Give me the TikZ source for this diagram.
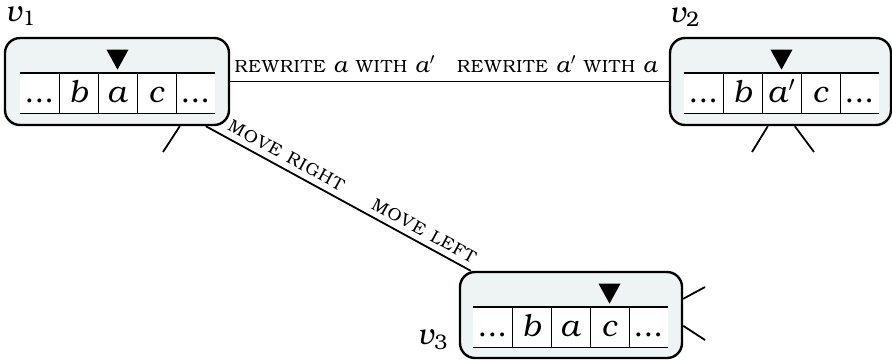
\documentclass[tikz,border=0pt]{standalone}
\usepackage[T1]{fontenc}
\usepackage{bookman}
\usetikzlibrary{calc}
\definecolor{boxfill}{RGB}{238,243,243}
\newcommand\tdots{...}
\tikzset{
  machine/.style={draw, line width=1.2pt, rounded corners=7.5pt, fill=boxfill, inner sep=0pt},
  cell/.style={fill=white, minimum width=19.5pt, minimum height=20pt, inner sep=0pt,
    text height=14.5pt, text depth=5.5pt, font=\fontsize{15.5}{17}\selectfont},
  tapeline/.style={line width=0.9pt},
  edge/.style={line width=0.9pt},
  lbl/.style={font=\fontsize{11}{13}\selectfont, inner sep=0pt},
  vlabel/.style={font=\fontsize{15}{17}\selectfont, inner sep=0pt}
}
\newcommand\tapecells[5]{%
  \foreach \t [count=\i] in {#4}{
    \node[cell] (#1c\i) at ({#2+39*\i-19.5},{#3+20}) {\t};
  }
  \draw[tapeline] (#1c1.north west) -- (#1c5.north east);
  \draw[tapeline] (#1c1.south west) -- (#1c5.south east);
  \foreach \i in {1,...,4}{\draw[tapeline] (#1c\i.north east) -- (#1c\i.south east);}
  \fill ($(#1c#5.north)+(0,-3)$) -- ++(-11,-20) -- ++(22,0) -- cycle;
}
\begin{document}
\begin{tikzpicture}[x=0.5pt,y=-0.5pt]
\useasboundingbox (0,0) rectangle (892,361);
% machines
\node[machine, minimum width=112pt, minimum height=43.5pt] (v1) at (117,81.5) {};
\node[machine, minimum width=110.5pt, minimum height=43.5pt] (v2) at (780.5,81.5) {};
\node[machine, minimum width=111pt, minimum height=43pt] (v3) at (571,315) {};
\tapecells{t1}{20}{73}{\tdots,\textit{b},\textit{a},\textit{c},\tdots}{3}
\tapecells{t2}{684}{73}{\tdots,\textit{b},\textit{a}$'$,\textit{c},\tdots}{3}
\tapecells{t3}{473}{307}{\tdots,\textit{b},\textit{a},\textit{c},\tdots}{4}
% labels
\node[vlabel] (l1) at (21,16) {\textit{v}\textsubscript{1}};
\node[vlabel] (l2) at (685,17) {\textit{v}\textsubscript{2}};
\node[vlabel] (l3) at (433,340) {\textit{v}\textsubscript{3}};
% edges
\draw[edge] (v1.east) -- (v2.west)
  node[lbl, pos=0, anchor=base west, xshift=1.5pt, yshift=4.5pt] (r1) {\textsc{rewrite} \textit{a} \textsc{with} \textit{a}$'$}
  node[lbl, pos=1, anchor=base east, xshift=-5pt, yshift=4.5pt] (r2) {\textsc{rewrite} \textit{a}$'$ \textsc{with} \textit{a}};
\coordinate (e1) at ($(v1.south west)+(202,0)$);
\coordinate (e3) at ($(v3.north west)+(12,0)$);
\draw[edge] (e1) -- (e3)
  node[lbl, pos=0.28, sloped, above=3pt] (m1) {\textsc{move right}}
  node[lbl, pos=0.8, sloped, above=3pt] (m2) {\textsc{move left}};
% stubs
\coordinate (s1) at (163,152);
\coordinate (s2) at (752,152);
\coordinate (s3) at (814,152);
\coordinate (s4) at (705,287);
\coordinate (s5) at (705,340);
\draw[edge] ($(v1.south west)+(176,0)$) -- (s1);
\draw[edge] ($(v2.south west)+(99,0)$) -- (s2);
\draw[edge] ($(v2.south west)+(126,0)$) -- (s3);
\draw[edge] ($(v3.north east)+(0,28)$) -- (s4);
\draw[edge] ($(v3.north east)+(0,55)$) -- (s5);
\end{tikzpicture}
\end{document}
